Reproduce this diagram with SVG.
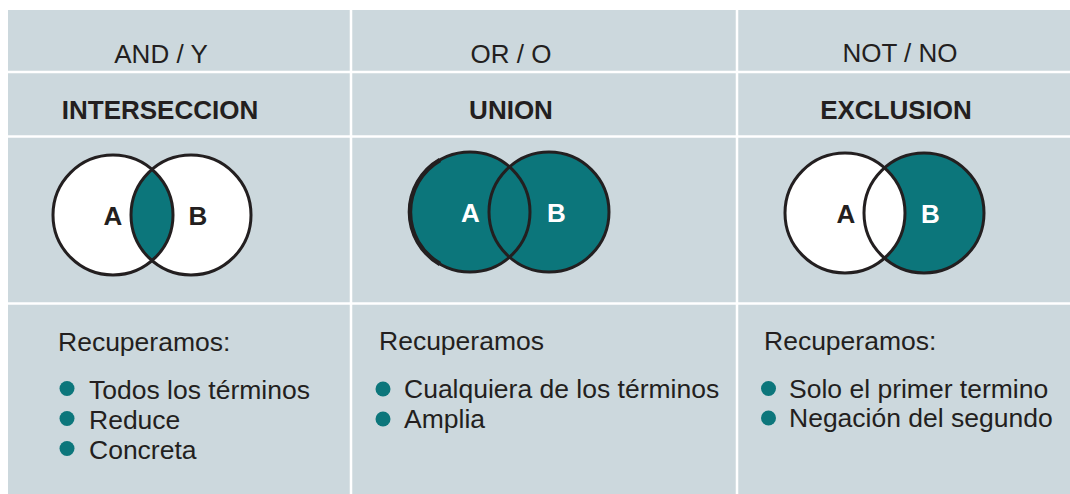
<svg xmlns="http://www.w3.org/2000/svg" width="1070" height="494" viewBox="0 0 1070 494">
<style>
.t{font-family:"Liberation Sans",Arial,sans-serif;fill:#231f20}
.h{font-size:26px}
.b{font-size:26px;font-weight:bold}
.lbl{font-size:26px;font-weight:bold;text-anchor:middle}
.c{text-anchor:middle}
.body{font-size:26.5px}
.ring{fill:none;stroke:#231f20;stroke-width:3}
.teal{fill:#0c767b}
.wht{fill:#ffffff}
.dot{fill:#0c767b}
.grid{stroke:#ffffff;stroke-width:2.5}
</style>
<rect x="0" y="0" width="1070" height="494" fill="#ffffff"/>
<rect x="8" y="10" width="1062" height="484" fill="#ccd8dd"/>
<g id="grid">
<line class="grid" x1="351" y1="10" x2="351" y2="494"/>
<line class="grid" x1="737" y1="10" x2="737" y2="494"/>
<line class="grid" x1="8" y1="72" x2="1070" y2="72"/>
<line class="grid" x1="8" y1="136.5" x2="1070" y2="136.5"/>
<line class="grid" x1="8" y1="303.5" x2="1070" y2="303.5"/>
</g>
<g id="col-and">
<text class="t h c" x="161" y="63">AND / Y</text>
<text class="t b c" x="160" y="119">INTERSECCION</text>
<g id="venn-and">
<circle class="wht" cx="113" cy="215" r="60"/>
<circle class="wht" cx="191" cy="215" r="60"/>
<path class="teal" d="M152,169.4 A60,60 0 0 1 152,260.6 A60,60 0 0 1 152,169.4 Z"/>
<circle class="ring" cx="113" cy="215" r="60"/>
<circle class="ring" cx="191" cy="215" r="60"/>
<text class="t lbl" x="113" y="225">A</text>
<text class="t lbl" x="198" y="225">B</text>
</g>
<text class="t body" x="58" y="351">Recuperamos:</text>
<circle class="dot" cx="67" cy="388.5" r="7.5"/>
<text class="t body" x="89" y="398.5">Todos los términos</text>
<circle class="dot" cx="67" cy="418.5" r="7.5"/>
<text class="t body" x="89" y="428.5">Reduce</text>
<circle class="dot" cx="67" cy="448.5" r="7.5"/>
<text class="t body" x="89" y="458.5">Concreta</text>
</g>
<g id="col-or">
<text class="t h c" x="511" y="63">OR / O</text>
<text class="t b c" x="511" y="119">UNION</text>
<g id="venn-or">
<circle class="teal" cx="470" cy="212" r="60"/>
<circle class="teal" cx="549" cy="212" r="60"/>
<circle class="ring" cx="470" cy="212" r="60"/>
<circle class="ring" cx="549" cy="212" r="60"/>
<path d="M440,160 A60,60 0 0 0 440,264" fill="none" stroke="#231f20" stroke-width="4.5"/>
<text class="t lbl" x="470.5" y="222" fill="#ffffff" style="fill:#ffffff">A</text>
<text class="t lbl" x="556.5" y="222" style="fill:#ffffff">B</text>
</g>
<text class="t body" x="379" y="350">Recuperamos</text>
<circle class="dot" cx="383" cy="389" r="7.5"/>
<text class="t body" x="404" y="398">Cualquiera de los términos</text>
<circle class="dot" cx="383" cy="419" r="7.5"/>
<text class="t body" x="404" y="428">Amplia</text>
</g>
<g id="col-not">
<text class="t h c" x="900" y="62">NOT / NO</text>
<text class="t b c" x="896" y="118.5">EXCLUSION</text>
<g id="venn-not">
<circle class="teal" cx="924" cy="213" r="60"/>
<circle class="wht" cx="845" cy="213" r="60"/>
<circle class="ring" cx="845" cy="213" r="60"/>
<circle class="ring" cx="924" cy="213" r="60"/>
<text class="t lbl" x="846" y="223">A</text>
<text class="t lbl" x="930.5" y="223" style="fill:#ffffff">B</text>
</g>
<text class="t body" x="764" y="350">Recuperamos:</text>
<circle class="dot" cx="768.5" cy="388.5" r="7.5"/>
<text class="t body" x="789" y="398">Solo el primer termino</text>
<circle class="dot" cx="768.5" cy="418" r="7.5"/>
<text class="t body" x="789" y="427">Negación del segundo</text>
</g>
</svg>
